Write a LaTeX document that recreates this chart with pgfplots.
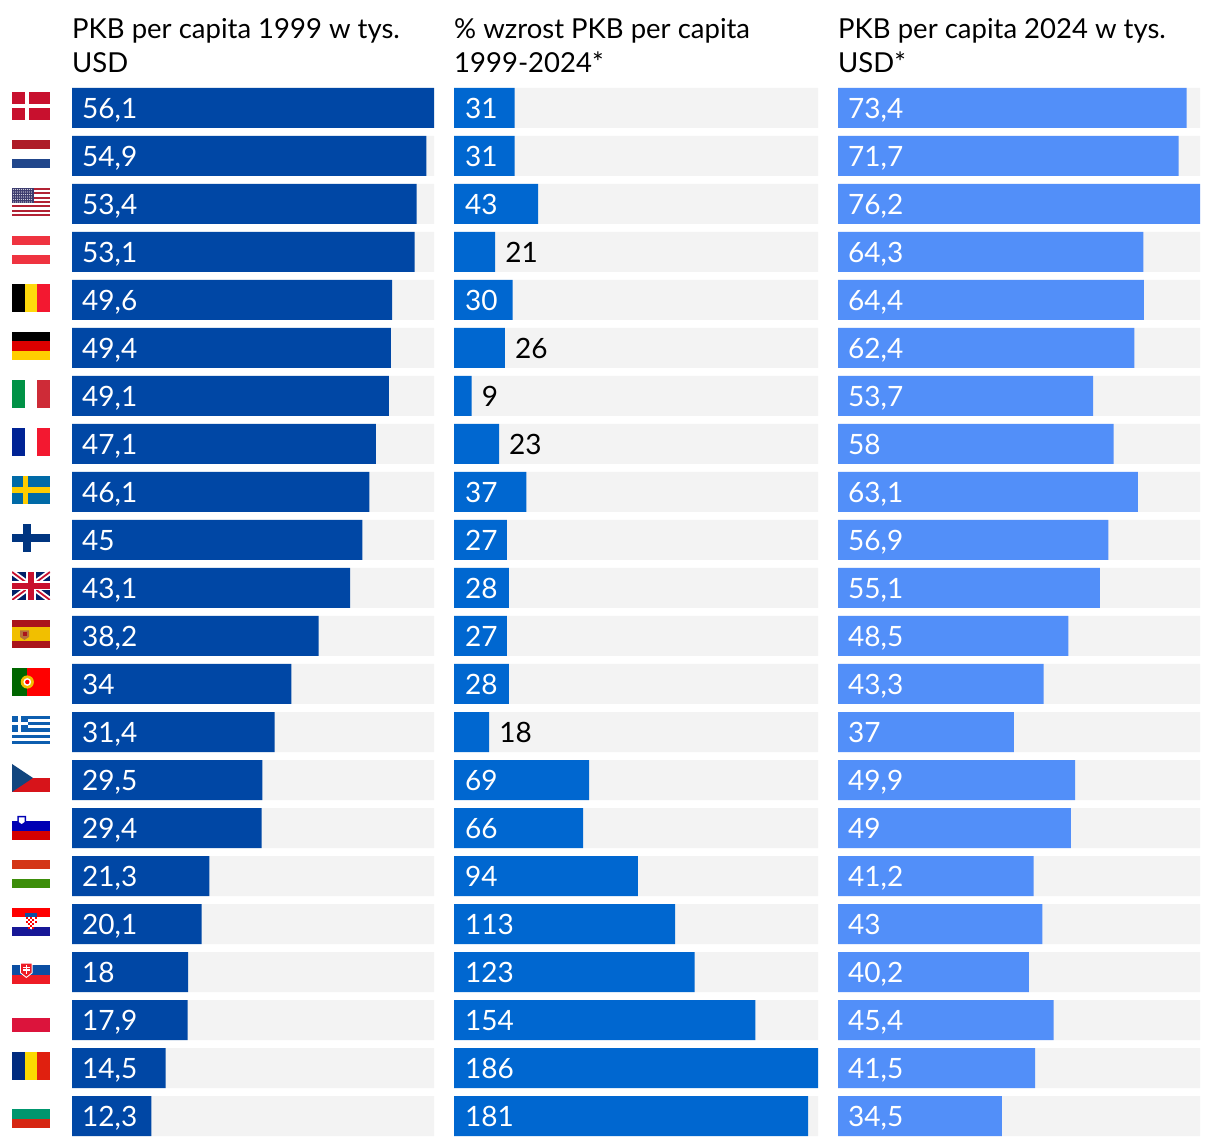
\documentclass[border=0pt]{standalone}
\usepackage{fontspec}
\setmainfont{Lato}
\usepackage{pgfplots}
\usepackage{pgfplotstable}
\pgfplotsset{compat=1.18}

\definecolor{cA}{HTML}{0047A5}
\definecolor{cB}{HTML}{0067D0}
\definecolor{cC}{HTML}{528FF9}
\definecolor{track}{HTML}{F3F3F3}

% flag colours
\definecolor{dkred}{HTML}{C8102E}
\definecolor{nlred}{HTML}{AE1C28}
\definecolor{nlblue}{HTML}{21468B}
\definecolor{usred}{HTML}{B22234}
\definecolor{usblue}{HTML}{3C3B6E}
\definecolor{atred}{HTML}{EF3340}
\definecolor{beyel}{HTML}{FFD90C}
\definecolor{bered}{HTML}{F31830}
\definecolor{dered}{HTML}{DD0000}
\definecolor{deyel}{HTML}{FFCE00}
\definecolor{itgreen}{HTML}{009246}
\definecolor{itred}{HTML}{CE2B37}
\definecolor{frblue}{HTML}{002395}
\definecolor{frred}{HTML}{F31830}
\definecolor{seblue}{HTML}{006AA7}
\definecolor{seyel}{HTML}{FECC00}
\definecolor{fiblue}{HTML}{003580}
\definecolor{ukblue}{HTML}{012169}
\definecolor{ukred}{HTML}{C8102E}
\definecolor{esred}{HTML}{AA151B}
\definecolor{esyel}{HTML}{F1BF00}
\definecolor{esbrown}{HTML}{B5703A}
\definecolor{ptgreen}{HTML}{006600}
\definecolor{grblue}{HTML}{0D5EAF}
\definecolor{czblue}{HTML}{11457E}
\definecolor{czred}{HTML}{D7141A}
\definecolor{siblue}{HTML}{0000B4}
\definecolor{sired}{HTML}{D50000}
\definecolor{hured}{HTML}{D43516}
\definecolor{hugreen}{HTML}{3D8E0A}
\definecolor{hrblue}{HTML}{171796}
\definecolor{skblue}{HTML}{0B4EA2}
\definecolor{skred}{HTML}{EE1C25}
\definecolor{plred}{HTML}{DC143C}
\definecolor{roblue}{HTML}{002B7F}
\definecolor{royel}{HTML}{FCD900}
\definecolor{rored}{HTML}{E0200F}
\definecolor{bggreen}{HTML}{00966E}
\definecolor{bgred}{HTML}{D62612}

% row value track label
\pgfplotstableread{
row val track lab
0 56.1 56.1 56,1
1 54.9 56.1 54,9
2 53.4 56.1 53,4
3 53.1 56.1 53,1
4 49.6 56.1 49,6
5 49.4 56.1 49,4
6 49.1 56.1 49,1
7 47.1 56.1 47,1
8 46.1 56.1 46,1
9 45.0 56.1 45
10 43.1 56.1 43,1
11 38.2 56.1 38,2
12 34.0 56.1 34
13 31.4 56.1 31,4
14 29.5 56.1 29,5
15 29.4 56.1 29,4
16 21.3 56.1 21,3
17 20.1 56.1 20,1
18 18.0 56.1 18
19 17.9 56.1 17,9
20 14.5 56.1 14,5
21 12.3 56.1 12,3
}\tabA
\pgfplotstableread{
row val track lab
0 31 186 31
1 31 186 31
2 43 186 43
3 21 186 21
4 30 186 30
5 26 186 26
6 9 186 9
7 23 186 23
8 37 186 37
9 27 186 27
10 28 186 28
11 27 186 27
12 28 186 28
13 18 186 18
14 69 186 69
15 66 186 66
16 94 186 94
17 113 186 113
18 123 186 123
19 154 186 154
20 186 186 186
21 181 186 181
}\tabB
\pgfplotstableread{
row val lab
0 0 31
1 0 31
2 0 43
4 0 30
8 0 37
9 0 27
10 0 28
11 0 27
12 0 28
14 0 69
15 0 66
16 0 94
17 0 113
18 0 123
19 0 154
20 0 186
21 0 181
}\tabBin
\pgfplotstableread{
row val lab
3 21 21
5 26 26
6 9 9
7 23 23
13 18 18
}\tabBout
\pgfplotstableread{
row val track lab
0 73.4 76.2 73,4
1 71.7 76.2 71,7
2 76.2 76.2 76,2
3 64.3 76.2 64,3
4 64.4 76.2 64,4
5 62.4 76.2 62,4
6 53.7 76.2 53,7
7 58.0 76.2 58
8 63.1 76.2 63,1
9 56.9 76.2 56,9
10 55.1 76.2 55,1
11 48.5 76.2 48,5
12 43.3 76.2 43,3
13 37.0 76.2 37
14 49.9 76.2 49,9
15 49.0 76.2 49
16 41.2 76.2 41,2
17 43.0 76.2 43
18 40.2 76.2 40,2
19 45.4 76.2 45,4
20 41.5 76.2 41,5
21 34.5 76.2 34,5
}\tabC

\pgfplotsset{
  panel/.style={
    scale only axis, height=1048pt,
    xmin=0, ymin=-0.41667, ymax=21.41667, y dir=reverse,
    hide axis, clip=false,
    title style={at={(0,1)}, anchor=base west, align=left, inner sep=0pt, xshift=0pt, yshift=9pt,
      font=\fontsize{27.5}{34}\selectfont},
  },
  rowbar/.style={xbar, bar shift=0pt, bar width=40pt, draw=none, fill=#1},
  lab/.style={only marks, mark=none, point meta=explicit symbolic, nodes near coords,
    nodes near coords style={anchor=base west, inner sep=0pt, xshift=#1, yshift=-10.5pt,
      font=\fontsize{28}{28}\selectfont}},
}

% flags, 38x28 px, coordinates run downwards from the flag's top left corner
\newcommand{\hstripes}[3]{\fill[#1] (0,0) rectangle (38,9.33); \fill[#2] (0,9.33) rectangle (38,18.67); \fill[#3] (0,18.67) rectangle (38,28);}
\newcommand{\vstripes}[3]{\fill[#1] (0,0) rectangle (12.67,28); \fill[#2] (12.67,0) rectangle (25.33,28); \fill[#3] (25.33,0) rectangle (38,28);}
\newcommand{\flag}[2]{\begin{scope}[shift={(12pt,{(1054-48*#1)*1pt})},x=1pt,y=-1pt]#2\end{scope}}

\begin{document}
\begin{tikzpicture}[x=1pt,y=1pt]
\path[use as bounding box] (0,0) rectangle (1220,1146);

\flag{0}{\fill[dkred] (0,0) rectangle (38,28); \fill[white] (13,0) rectangle (16.5,28); \fill[white] (0,12) rectangle (38,16);}
\flag{1}{\hstripes{nlred}{white}{nlblue}}
\flag{2}{\foreach \i in {0,2,...,12} {\fill[usred] (0,\i*2.154) rectangle (38,\i*2.154+2.154);}
  \fill[usblue] (0,0) rectangle (22,15);
  \foreach \a in {1.5,3.5,...,21} {\foreach \b in {1.5,4,...,14.5} {\fill[white!75!usblue] (\a,\b) circle (0.55);}}}
\flag{3}{\hstripes{atred}{white}{atred}}
\flag{4}{\vstripes{black}{beyel}{bered}}
\flag{5}{\hstripes{black}{dered}{deyel}}
\flag{6}{\vstripes{itgreen}{white}{itred}}
\flag{7}{\vstripes{frblue}{white}{frred}}
\flag{8}{\fill[seblue] (0,0) rectangle (38,28); \fill[seyel] (10.7,0) rectangle (16,28); \fill[seyel] (0,11.2) rectangle (38,16.8);}
\flag{9}{\fill[fiblue] (10.7,0) rectangle (18.7,28); \fill[fiblue] (0,10) rectangle (38,18);}
\flag{10}{\begin{scope}
  \clip (0,0) rectangle (38,28);
  \fill[ukblue] (0,0) rectangle (38,28);
  \draw[white,line width=5.5pt] (0,0) -- (38,28) (0,28) -- (38,0);
  \draw[ukred,line width=1.8pt] (0,0) -- (38,28) (0,28) -- (38,0);
  \fill[white] (14,0) rectangle (24,28); \fill[white] (0,9.5) rectangle (38,18.5);
  \fill[ukred] (15.8,0) rectangle (22.2,28); \fill[ukred] (0,11) rectangle (38,17);
  \end{scope}}
\flag{11}{\fill[esred] (0,0) rectangle (38,28); \fill[esyel] (0,7) rectangle (38,21);
  \fill[esbrown] (8,10.5) -- (17,10.5) -- (17,17) -- (12.5,20) -- (8,17) -- cycle; \fill[esred] (10.5,12) rectangle (14.5,16);}
\flag{12}{\fill[red] (0,0) rectangle (38,28); \fill[ptgreen] (0,0) rectangle (15.2,28);
  \fill[esyel] (15.3,14) circle (6.6); \fill[white] (15.3,14) circle (3.9); \fill[red] (15.3,14) circle (2.2);}
\flag{13}{\foreach \i in {0,2,...,8} {\fill[grblue] (0,\i*3.111) rectangle (38,\i*3.111+3.111);}
  \fill[grblue] (0,0) rectangle (15.6,15.6); \fill[white] (6,0) rectangle (9.3,15.6); \fill[white] (0,6.2) rectangle (15.6,9.4);}
\flag{14}{\fill[czred] (0,14) rectangle (38,28); \fill[czblue] (0,0) -- (21,14) -- (0,28) -- cycle;}
\flag{15}{\fill[siblue] (0,9.33) rectangle (38,18.67); \fill[sired] (0,18.67) rectangle (38,28);
  \fill[siblue] (5.3,4) -- (14,4) -- (14,10) -- (9.65,13.5) -- (5.3,10) -- cycle; \fill[white] (6.8,5.5) -- (12.5,5.5) -- (12.5,10) -- (9.65,12) -- (6.8,10) -- cycle;}
\flag{16}{\hstripes{hured}{white}{hugreen}}
\flag{17}{\hstripes{red}{white}{hrblue}
  \fill[skblue] (13,4.7) rectangle (25.3,9);
  \fill[white] (13.5,9) -- (24.8,9) -- (24.8,17) -- (19.15,21.5) -- (13.5,17) -- cycle;
  \foreach \a/\b in {13.5/9,18/9,22.5/9,15.75/11,20.25/11,13.5/13,18/13,22.5/13,15.75/15,20.25/15,18/17,15.75/18.5,20.25/18.5} {\fill[red] (\a,\b) rectangle (\a+2.2,\b+2);}}
\flag{18}{\hstripes{white}{skblue}{skred}
  \fill[white] (8,6.7) -- (20.7,6.7) -- (20.7,17) -- (14.35,22) -- (8,17) -- cycle;
  \fill[skred] (9,7.7) -- (19.7,7.7) -- (19.7,16.5) -- (14.35,20.7) -- (9,16.5) -- cycle;
  \fill[white] (13.6,8.8) rectangle (15.1,18); \fill[white] (11.2,10.7) rectangle (17.5,12); \fill[white] (10.5,13.3) rectangle (18.2,14.7);}
\flag{19}{\fill[plred] (0,14) rectangle (38,28);}
\flag{20}{\vstripes{roblue}{royel}{rored}}
\flag{21}{\hstripes{white}{bggreen}{bgred}}

\begin{axis}[panel, at={(72pt,10pt)}, anchor=south west, width=362pt, xmax=56.1,
    title={PKB per capita 1999 w tys.\\USD}]
  \addplot[rowbar=track] table[x=track, y=row] {\tabA};
  \addplot[rowbar=cA] table[x=val, y=row] {\tabA};
  \addplot[lab=10pt, text=white] table[x expr=0, y=row, meta=lab] {\tabA};
\end{axis}

\begin{axis}[panel, at={(454pt,10pt)}, anchor=south west, width=364pt, xmax=186,
    title={\% wzrost PKB per capita\\1999-2024*}]
  \addplot[rowbar=track] table[x=track, y=row] {\tabB};
  \addplot[rowbar=cB] table[x=val, y=row] {\tabB};
  \addplot[lab=11pt, text=white] table[x=val, y=row, meta=lab] {\tabBin};
  \addplot[lab=10pt, text=black] table[x=val, y=row, meta=lab] {\tabBout};
\end{axis}

\begin{axis}[panel, at={(838pt,10pt)}, anchor=south west, width=362pt, xmax=76.2,
    title={PKB per capita 2024 w tys.\\USD*}]
  \addplot[rowbar=track] table[x=track, y=row] {\tabC};
  \addplot[rowbar=cC] table[x=val, y=row] {\tabC};
  \addplot[lab=10pt, text=white] table[x expr=0, y=row, meta=lab] {\tabC};
\end{axis}
\end{tikzpicture}
\end{document}
